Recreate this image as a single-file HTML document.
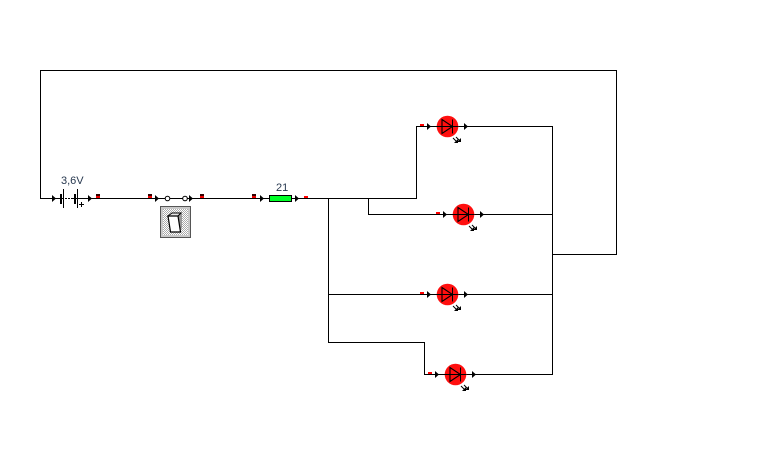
<!DOCTYPE html>
<html><head><meta charset="utf-8"><style>
html,body{margin:0;padding:0;background:#fff}
svg{display:block}
text{font-family:"Liberation Sans",sans-serif;font-size:11px;fill:#27384f}
</style></head><body>
<svg width="762" height="451" viewBox="0 0 762 451" xmlns="http://www.w3.org/2000/svg">
<defs>
<pattern id="d" width="2" height="2" patternUnits="userSpaceOnUse"><rect width="2" height="2" fill="#fff"/><rect width="1" height="1" fill="#aaa"/><rect x="1" y="1" width="1" height="1" fill="#aaa"/></pattern>
<g id="led">
<circle cx="0.500" cy="0.500" r="10.800" fill="#ff0f0f"/>
<path d="M-5 -6.500V7.500L5.500 .5Z" fill="none" stroke="#000" stroke-width="1.100"/>
<path d="M-11 .5H11M5.500 -6.500V7.500" stroke="#000" fill="none" shape-rendering="crispEdges"/>
<path d="M-20 -3v7l4 -3.500z" fill="#000"/>
<path d="M17 -3v7l4 -3.500z" fill="#000"/>
<path d="M6 12l4 4M9 11l4 4" stroke="#000" fill="none"/>
<path d="M7 17h4v-4zM10 16h4v-4z" fill="#000"/>
</g>
</defs>
<g fill="none" stroke="#000" stroke-width="1" shape-rendering="crispEdges">
<path d="M40.500 198.500V70.500H616.500V254.500H552.500"/>
<path d="M40 198.500H60M77 198.500H165M169 198.500H183M187 198.500H269M292 198.500H416.500V126.500H437"/>
<path d="M458 126.500H552.500V374.500H466"/>
<path d="M368.500 198.500V214.500H453M474 214.500H552"/>
<path d="M328.500 198.500V342.500H424.500V374.500H445"/>
<path d="M328 294.500H437M458 294.500H552"/>
</g>
<!-- battery -->
<g shape-rendering="crispEdges" fill="#000">
<rect x="60" y="194" width="2" height="10"/>
<rect x="63" y="189" width="1" height="19"/>
<rect x="65" y="198" width="2" height="1"/><rect x="68" y="198" width="2" height="1"/><rect x="71" y="198" width="2" height="1"/>
<rect x="74" y="194" width="2" height="10"/>
<rect x="77" y="189" width="1" height="19"/>
<rect x="79" y="204" width="5" height="1"/><rect x="81" y="202" width="1" height="5"/>
<rect x="60" y="198" width="3" height="1"/><rect x="73" y="198" width="4" height="1"/>
</g>
<path d="M52 195v7l4 -3.500zM88 195v7l4 -3.500zM155 195v7l4 -3.500zM189 195v7l4 -3.500zM260 195v7l4 -3.500zM295 195v7l4 -3.500z" fill="#000"/>
<text x="61" y="184">3,6V</text>
<!-- markers -->
<g shape-rendering="crispEdges">
<rect x="96" y="194" width="4" height="2" fill="#300"/><rect x="96" y="196" width="4" height="2" fill="#e00"/>
<rect x="148" y="194" width="4" height="2" fill="#300"/><rect x="148" y="196" width="4" height="2" fill="#e00"/>
<rect x="200" y="194" width="4" height="2" fill="#300"/><rect x="200" y="196" width="4" height="2" fill="#e00"/>
<rect x="252" y="194" width="4" height="2" fill="#300"/><rect x="252" y="196" width="4" height="2" fill="#e00"/>
<rect x="304" y="196" width="4" height="2" fill="#f00"/>
<rect x="420" y="124" width="4" height="2" fill="#f00"/>
<rect x="436" y="212" width="4" height="2" fill="#f00"/>
<rect x="420" y="292" width="4" height="2" fill="#f00"/>
<rect x="428" y="372" width="4" height="2" fill="#f00"/>
</g>
<!-- switch -->
<circle cx="167.500" cy="198.500" r="2.300" fill="#fff" stroke="#000"/>
<circle cx="185" cy="198.500" r="2.300" fill="#fff" stroke="#000"/>
<g shape-rendering="crispEdges">
<rect x="160.500" y="206.500" width="30" height="31" fill="#c8c8c8" stroke="#555"/>
<rect x="163" y="209" width="25" height="26" fill="url(#d)"/>
</g>
<path d="M178 213H182V228L178 232Z" fill="#999"/>
<path d="M168 216L172 213H181L178 216Z" fill="#e8e8e8" stroke="#000"/>
<path d="M168 216H178L180.500 232H170.500Z" fill="#fff" stroke="#000" stroke-width="1.200"/>
<!-- fuse -->
<rect x="269.500" y="195.500" width="22" height="6" fill="#00ff28" stroke="#000" shape-rendering="crispEdges"/>
<text x="276" y="191">21</text>
<!-- LEDs -->
<use href="#led" x="447" y="126"/>
<use href="#led" x="463" y="214"/>
<use href="#led" x="447" y="294"/>
<use href="#led" x="455" y="374"/>
</svg>
</body></html>
